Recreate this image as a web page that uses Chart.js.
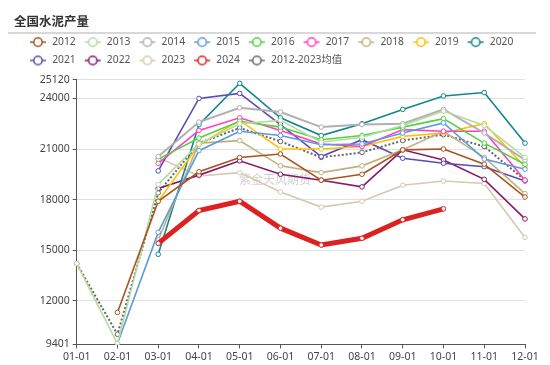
<!DOCTYPE html>
<html>
<head>
<meta charset="utf-8">
<script src="https://cdn.jsdelivr.net/npm/chart.js@4.4.1/dist/chart.umd.min.js"></script>
<style>
html, body { margin: 0; padding: 0; background: #fff; }
#wrap { position: relative; width: 550px; height: 365px; }
#title { position: absolute; left: 14px; top: 11px; font: bold 12.5px 'Noto Sans CJK SC', sans-serif; color: #333; }
#rule { position: absolute; left: 8px; top: 32px; width: 528px; border-top: 2px solid #d8d8d8; }
</style>
</head>
<body>
<div id="wrap">
  <canvas id="c" width="550" height="365"></canvas>
  <div id="title">全国水泥产量</div>
  <div id="rule"></div>
</div>
<script>
// months on the x axis
var months = ['01-01','02-01','03-01','04-01','05-01','06-01','07-01','08-01','09-01','10-01','11-01','12-01'];
var yTicks = [9401, 12000, 15000, 18000, 21000, 24000, 25120];

// monthly output
var y2012 = [null, 11300, 17900, 19650, 20500, 20700, 19150, 19500, 20950, 21000, 20100, 18150];
var y2013 = [14200, 9450, 18900, 21300, 22500, 22700, 21400, 21700, 22400, 23250, 22400, 20500];
var y2014 = [null, null, 20550, 22600, 23450, 23200, 22300, 22450, 22500, 23350, 21950, 20350];
var y2015 = [null, 9450, 16050, 20900, 22050, 21800, 21250, 21300, 21950, 22550, 20400, 19800];
var y2016 = [null, null, 20400, 21650, 22650, 22300, 21550, 21800, 22300, 22800, 21350, 20100];
var y2017 = [null, null, 20150, 22100, 22850, 22100, 21300, 21150, 22150, 22050, 22050, 19150];
var y2018 = [null, null, 15600, 21350, 21500, 20000, 19600, 20000, 20950, 22050, 20500, 18350];
var y2019 = [null, null, 17900, 21250, 22700, 21000, 21000, 21150, 21750, 21950, 22500, 19950];
var y2020 = [null, null, 14750, 22450, 24900, 22850, 21800, 22500, 23350, 24150, 24350, 21350];
var y2021 = [null, null, 19700, 24000, 24300, 22450, 20550, 21550, 20450, 20150, 19950, 19100];
var y2022 = [null, null, 18650, 19450, 20300, 19500, 19150, 18750, 20950, 20350, 19200, 16850];
var y2023 = [null, null, 20500, 19400, 19600, 18450, 17550, 17900, 18850, 19100, 18950, 15750];
var y2024 = [null, null, 15400, 17350, 17900, 16300, 15300, 15700, 16800, 17450, null, null];
var avg = [14200, 10000, 18400, 21350, 22250, 21450, 20500, 20800, 21500, 21850, 21150, 19150];

function line(label, data, color, width, dash) {
  return {
    label: label,
    data: data,
    borderColor: color,
    backgroundColor: '#fff',
    borderWidth: width || 1.6,
    borderDash: dash || [],
    pointRadius: 2.3,
    pointBorderWidth: 1,
    pointBorderColor: color,
    pointBackgroundColor: '#fff',
    tension: 0,
    fill: false
  };
}

var datasets = [
  line('2012', y2012, '#a8541f'),
  line('2013', y2013, '#b5dca0'),
  line('2014', y2014, '#b0b0b0', 2),
  line('2015', y2015, '#5b9bdc'),
  line('2016', y2016, '#55d23c'),
  line('2017', y2017, '#ff3fc0'),
  line('2018', y2018, '#c3b07e'),
  line('2019', y2019, '#ffc107'),
  line('2020', y2020, '#14848f'),
  line('2021', y2021, '#5a4cb0'),
  line('2022', y2022, '#87186a'),
  line('2023', y2023, '#d6c9b4'),
  line('2024', y2024, '#dd2020', 5),
  line('2012-2023均值', avg, '#666', 2, [2, 2])
];
datasets[12].order = -1;

// legend icon: short line with a hollow circle
function legendIcon(color) {
  var cv = document.createElement('canvas');
  cv.width = 18; cv.height = 12;
  var g = cv.getContext('2d');
  g.strokeStyle = color;
  g.lineWidth = 1.5;
  g.beginPath(); g.moveTo(1, 6); g.lineTo(17, 6); g.stroke();
  g.fillStyle = '#fff';
  g.beginPath(); g.arc(9, 6, 4.2, 0, Math.PI * 2); g.fill(); g.stroke();
  return cv;
}

var watermark = {
  id: 'watermark',
  beforeInit: function(chart) {
    // a bit more room under the legend
    var fit = chart.legend.fit;
    chart.legend.fit = function() {
      fit.call(this);
      this.height += 4;
    };
  },
  beforeDatasetsDraw: function(chart) {
    var ctx = chart.ctx;
    ctx.save();
    ctx.font = "12px 'Noto Sans CJK SC'";
    ctx.fillStyle = 'rgba(170,170,170,0.55)';
    ctx.textAlign = 'left';
    ctx.textBaseline = 'middle';
    ctx.fillText('紫金天风期货', 239, 179);
    ctx.restore();
  }
};

var font = "'Noto Sans', 'Noto Sans CJK SC', sans-serif";

new Chart(document.getElementById('c'), {
  type: 'line',
  data: { labels: months, datasets: datasets },
  plugins: [watermark],
  options: {
    responsive: false,
    animation: false,
    layout: { padding: { left: 21, right: 25, top: 29, bottom: 0 } },
    plugins: {
      title: { display: false },
      tooltip: { enabled: false },
      legend: {
        position: 'top',
        align: 'start',
        labels: {
          usePointStyle: true,
          pointStyleWidth: 18,
          padding: 8,
          color: '#555',
          font: { family: font, size: 10.3 },
          sort: function(a, b) { return a.datasetIndex - b.datasetIndex; },
          generateLabels: function(chart) {
            var items = Chart.defaults.plugins.legend.labels.generateLabels(chart);
            items.forEach(function(it) {
              it.pointStyle = legendIcon(chart.data.datasets[it.datasetIndex].borderColor);
            });
            return items;
          }
        }
      }
    },
    scales: {
      x: {
        offset: false,
        grid: { drawOnChartArea: false, drawTicks: true, tickLength: 4, tickColor: '#555' },
        border: { color: '#555', width: 1 },
        ticks: { color: '#444', font: { family: font, size: 10.5 }, padding: 2, maxRotation: 0, autoSkip: false }
      },
      y: {
        min: 9401,
        max: 25120,
        afterBuildTicks: function(scale) {
          scale.ticks = yTicks.map(function(v) { return { value: v }; });
        },
        afterFit: function(scale) { scale.width = 55.7; },
        grid: { color: '#e0e0e0', lineWidth: 1, tickLength: 4, tickColor: '#555' },
        border: { color: '#555', width: 1 },
        ticks: {
          color: '#444',
          font: { family: font, size: 10.5 },
          padding: 3,
          callback: function(v) { return String(v); }
        }
      }
    }
  }
});
</script>
</body>
</html>
